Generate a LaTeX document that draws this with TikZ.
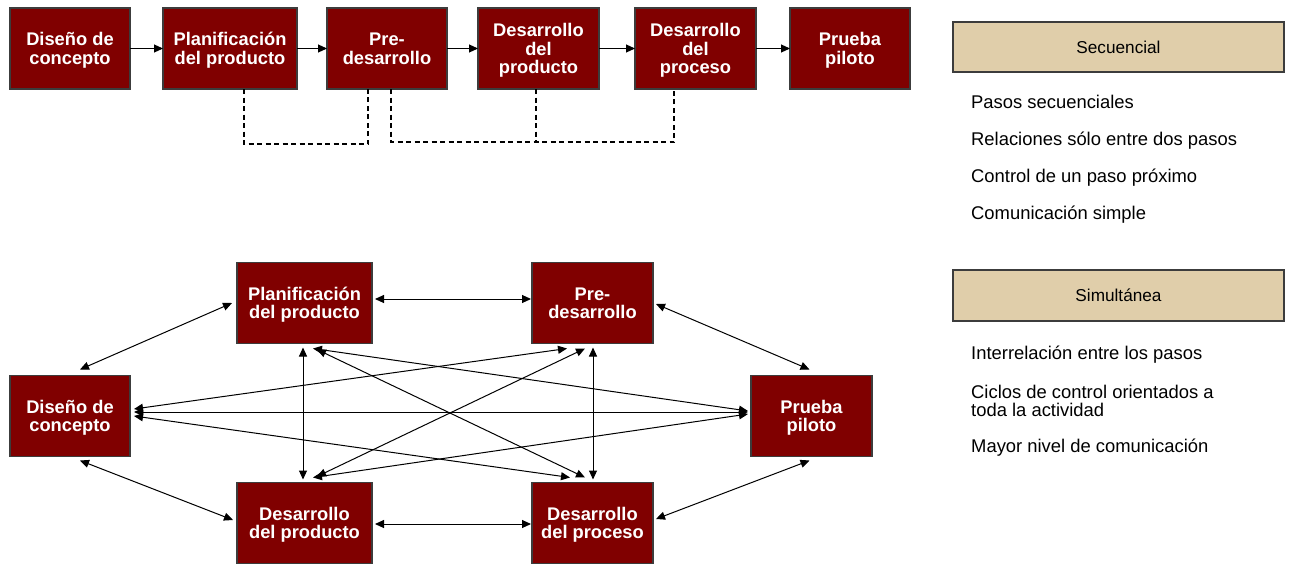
\documentclass[tikz,border=0pt]{standalone}
\usepackage{fontspec}
\setmainfont{Liberation Sans}
\usetikzlibrary{arrows.meta}
\definecolor{boxred}{HTML}{800000}
\definecolor{tanbox}{HTML}{E0CEAA}
\definecolor{edgegray}{HTML}{3C3C3C}

\begin{document}
\begin{tikzpicture}[x=1pt,y=-1pt,
  stepbox/.style={draw=edgegray, line width=1.2pt, fill=boxred, text=white,
    font=\bfseries\fontsize{18.3}{18.6}\selectfont, align=center,
    inner sep=0pt, outer sep=0pt, minimum height=81pt,
    text height=31.8pt, text depth=0pt},
  threelines/.style={text height=50.4pt},
  headbox/.style={draw=edgegray, line width=1.2pt, fill=tanbox,
    font=\fontsize{17.2}{20}\selectfont, inner sep=0pt, outer sep=0pt,
    minimum width=331pt, minimum height=50pt},
  item/.style={anchor=base west, inner sep=0pt, align=left,
    font=\fontsize{18.4}{18}\selectfont},
  tip/.tip={Triangle[length=9pt,width=8pt]},
  flow/.style={line width=1pt, -tip},
  link/.style={line width=1pt, tip-tip},
  feedback/.style={line width=1.2pt, dash pattern=on 5pt off 3.5pt}]

\useasboundingbox (0,0) rectangle (1291,565);

% ---------- sequential chain ----------
\node[stepbox, minimum width=120pt] (t1) at (70,48.5)    {Diseño de\\concepto};
\node[stepbox, minimum width=134pt] (t2) at (230,48.5)   {Planificación\\del producto};
\node[stepbox, minimum width=120pt] (t3) at (387,48.5)   {Pre-\\desarrollo};
\node[stepbox, threelines, minimum width=121pt] (t4) at (538.5,48.5) {Desarrollo\\del\\producto};
\node[stepbox, threelines, minimum width=121pt] (t5) at (695.5,48.5) {Desarrollo\\del\\proceso};
\node[stepbox, minimum width=120pt] (t6) at (850,48.5)   {Prueba\\piloto};

\draw[flow] (t1) -- (t2);
\draw[flow] (t2) -- (t3);
\draw[flow] (t3) -- (t4);
\draw[flow] (t4) -- (t5);
\draw[flow] (t5) -- (t6);

% feedback between neighbouring steps
\draw[feedback] ([xshift=14pt]t2.south) -- ++(0,55) -| ([xshift=-19pt]t3.south);
\draw[feedback] ([xshift=4pt]t3.south) -- ++(0,53) -| ([xshift=-21.5pt]t5.south);
\draw[feedback] ([xshift=-2.5pt]t4.south) -- ++(0,53);

% ---------- simultaneous network ----------
\node[stepbox, minimum width=120pt] (dc)  at (70,416)    {Diseño de\\concepto};
\node[stepbox, minimum width=135pt] (pl)  at (304.5,303) {Planificación\\del producto};
\node[stepbox, minimum width=121pt] (pd)  at (592.5,303) {Pre-\\desarrollo};
\node[stepbox, minimum width=135pt] (dp)  at (304.5,523) {Desarrollo\\del producto};
\node[stepbox, minimum width=121pt] (dpr) at (592.5,523) {Desarrollo\\del proceso};
\node[stepbox, minimum width=121pt] (pp)  at (811.5,416) {Prueba\\piloto};

% outer ring
\draw[link] ([xshift=10pt,yshift=6pt]dc.north) -- ([xshift=-5pt]pl.west);
\draw[link] ([xshift=10pt,yshift=-4pt]dc.south) -- ([xshift=-4pt,yshift=3pt]dp.west);
\draw[link] ([xshift=3pt,yshift=4pt]pl.east) -- ([xshift=-1pt,yshift=4pt]pd.west);
\draw[link] ([xshift=3pt,yshift=-1pt]dp.east) -- ([xshift=-1pt,yshift=-1pt]dpr.west);
\draw[link] ([xshift=3pt,yshift=-1pt]pd.east) -- ([xshift=-2pt,yshift=6pt]pp.north);
\draw[link] ([xshift=3pt,yshift=4pt]dpr.east) -- ([xshift=-2pt,yshift=-4pt]pp.south);
% verticals
\draw[link] ([xshift=-1.5pt,yshift=-4pt]pl.south) -- ([xshift=-1.5pt,yshift=3pt]dp.north);
\draw[link] ([xshift=0.5pt,yshift=-4pt]pd.south) -- ([xshift=0.5pt,yshift=3pt]dpr.north);
% long diagonals
\draw[link] ([xshift=4pt,yshift=4pt]dc.east) -- ([xshift=-3pt,yshift=4pt]pp.west);
\draw[link] ([xshift=4pt,yshift=7pt]dc.east) -- ([xshift=-25.5pt,yshift=-5pt]pd.south);
\draw[link] ([xshift=4pt]dc.east) -- ([xshift=-22.5pt,yshift=5pt]dpr.north);
\draw[link] ([xshift=8.5pt,yshift=-5pt]pl.south) -- ([xshift=-3pt,yshift=5pt]pp.west);
\draw[link] ([xshift=8.5pt,yshift=5pt]dp.north) -- ([xshift=-3pt,yshift=2pt]pp.west);
\draw[link] ([xshift=12.5pt,yshift=-6pt]pl.south) -- ([xshift=-7.5pt,yshift=5pt]dpr.north);
\draw[link] ([xshift=12.5pt,yshift=6pt]dp.north) -- ([xshift=-7.5pt,yshift=-5pt]pd.south);

% ---------- legend ----------
\node[headbox] (sec) at (1118.5,47) {Secuencial};
\node[item] (s1) at (971,108) {Pasos secuenciales};
\node[item] (s2) at (971,145.5) {Relaciones sólo entre dos pasos};
\node[item] (s3) at (971,182.5) {Control de un paso próximo};
\node[item] (s4) at (971,219.5) {Comunicación simple};

\node[headbox, minimum height=51pt] (sim) at (1118.5,295.5) {Simultánea};
\node[item] (m1) at (971,359.5) {Interrelación entre los pasos};
\node[item] (m2) at (971,416)   {Ciclos de control orientados a\\toda la actividad};
\node[item] (m3) at (971,452.5) {Mayor nivel de comunicación};
\end{tikzpicture}
\end{document}
